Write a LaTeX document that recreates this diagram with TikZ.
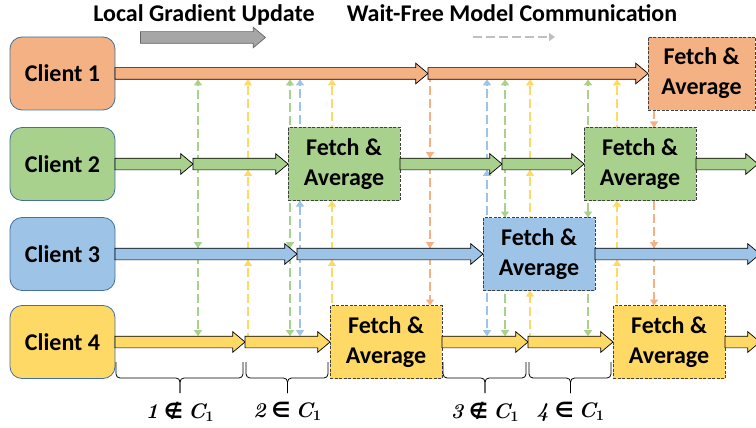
\documentclass[tikz,border=0pt]{standalone}
\usepackage[no-math]{fontspec}
\setmainfont{Carlito}
\newfontfamily\lmfont{Latin Modern Roman}
\newfontfamily\symfont{DejaVu Sans}
\usetikzlibrary{positioning, calc, shapes.arrows, arrows.meta, backgrounds}

\definecolor{corange}{HTML}{F4B183}
\definecolor{cgreen}{HTML}{A9D18E}
\definecolor{cblue}{HTML}{9DC3E6}
\definecolor{cyellow}{HTML}{FFD966}
\definecolor{cedge}{HTML}{41719C}
\definecolor{lgray}{HTML}{A6A6A6}
\definecolor{dgray}{HTML}{BFBFBF}

\begin{document}
\begin{tikzpicture}[
    x=1pt, y=-1pt,
    % Define the rounded client boxes
    client/.style={
        draw=cedge,
        line width=0.8pt,
        rounded corners=12pt,
        minimum width=105pt,
        minimum height=73pt,
        outer sep=0pt,
        font=\fontsize{24}{28}\selectfont\bfseries
    },
    % Block arrows for the local updates
    update/.style={
        single arrow,
        draw=black,
        line width=0.7pt,
        single arrow head extend=4.5pt,
        single arrow tip angle=80,
        inner xsep=0pt,
        inner ysep=5.5pt,
        text height=0pt,
        text depth=0pt,
        minimum height=#1,
        outer sep=0pt
    },
    % Dashed boxes for fetching and averaging
    fetch/.style={
        draw=black!75,
        dash pattern=on 3pt off 1.5pt,
        line width=0.8pt,
        minimum width=112pt,
        minimum height=73pt,
        outer sep=0pt,
        align=center,
        font=\fontsize{24}{30}\selectfont\bfseries
    },
    % Dashed communication arrows
    comm/.style={
        line width=2.5pt,
        dash pattern=on 9pt off 4pt,
        -{Triangle[length=6pt,width=8pt]}
    },
    brc/.style={draw=black, line width=0.8pt, rounded corners=4pt},
    lbl/.style={font=\fontsize{21}{24}\selectfont\lmfont\bfseries, inner sep=0pt}
]
\useasboundingbox (0,0) rectangle (756,428);

% Legend
\node[anchor=base, font=\fontsize{24}{28}\selectfont\bfseries] (lgu) at (204,22) {Local Gradient Update};
\node[anchor=base, font=\fontsize{24}{28}\selectfont\bfseries] (wfc) at (512,22) {Wait-Free Model Communication};
\node[update=125pt, fill=lgray, draw=black!60] (lga) at (199.5,37.5) {};
\coordinate (wa) at (473,37);
\coordinate (wb) at (555,37);
\draw[comm, dgray] (wa) -- (wb);

% Clients
\node[client, fill=corange] (c1) at (62.5,73.5) {Client 1};
\node[client, fill=cgreen] (c2) at (62.5,164) {Client 2};
\node[client, fill=cblue] (c3) at (62.5,254) {Client 3};
\node[client, fill=cyellow] (c4) at (62.5,342) {Client 4};

% Client 1 timeline
\node[update=313pt, fill=corange, right=0pt of c1] (a11) {};
\node[update=220pt, fill=corange, right=0pt of a11] (a12) {};
\node[fetch, fill=corange, minimum width=107pt, right=0pt of a12] (f11) {Fetch \&\\Average};

% Client 2 timeline
\node[update=78pt, fill=cgreen, right=0pt of c2] (a21) {};
\node[update=95pt, fill=cgreen, right=0pt of a21] (a22) {};
\node[fetch, fill=cgreen, right=0pt of a22] (f21) {Fetch \&\\Average};
\node[update=102pt, fill=cgreen, right=0pt of f21] (a23) {};
\node[update=82pt, fill=cgreen, right=0pt of a23] (a24) {};
\node[fetch, fill=cgreen, right=0pt of a24] (f22) {Fetch \&\\Average};
\node[update=62pt, fill=cgreen, right=0pt of f22] (a25) {};

% Client 3 timeline
\node[update=182pt, fill=cblue, right=0pt of c3] (a31) {};
\node[update=186pt, fill=cblue, right=0pt of a31] (a32) {};
\node[fetch, fill=cblue, right=0pt of a32] (f31) {Fetch \&\\Average};
\node[update=165pt, fill=cblue, right=0pt of f31] (a33) {};

% Client 4 timeline
\node[update=130pt, fill=cyellow, right=0pt of c4] (a41) {};
\node[update=85pt, fill=cyellow, right=0pt of a41] (a42) {};
\node[fetch, fill=cyellow, right=0pt of a42] (f41) {Fetch \&\\Average};
\node[update=86pt, fill=cyellow, right=0pt of f41] (a43) {};
\node[update=85pt, fill=cyellow, right=0pt of a43] (a44) {};
\node[fetch, fill=cyellow, right=0pt of a44] (f42) {Fetch \&\\Average};
\node[update=35pt, fill=cyellow, right=0pt of f42] (a45) {};

% Model pushes, drawn behind the timelines
\begin{scope}[on background layer]
% green, client 2 after first update
\coordinate (s1) at ($(a22.west)+(5,0)$);
\draw[comm, cgreen] (s1) -- (s1 |- a11.south);
\draw[comm, cgreen] (s1) -- (s1 |- a31.north);
\draw[comm, cgreen] (s1) -- (s1 |- a41.north);
% yellow, client 4 after first update
\coordinate (s2) at ($(a42.west)+(3,0)$);
\draw[comm, cyellow] (s2) -- (s2 |- a31.south);
\draw[comm, cyellow] (s2) -- (s2 |- a22.south);
\draw[comm, cyellow] (s2) -- (s2 |- a11.south);
% green, client 2 average
\coordinate (s3) at ($(f21.west)+(2,0)$);
\draw[comm, cgreen] (s3) -- (s3 |- a11.south);
\draw[comm, cgreen] (s3) -- (s3 |- a31.north);
\draw[comm, cgreen] (s3) -- (s3 |- a42.north);
% blue, client 3 after first update
\coordinate (s4) at ($(a32.west)+(3,0)$);
\draw[comm, cblue] (s4) -- (s4 |- f21.south);
\draw[comm, cblue] (s4) -- (s4 |- a11.south);
\draw[comm, cblue] (s4) -- (s4 |- a42.north);
% yellow, client 4 average
\coordinate (s5) at ($(f41.west)+(2,0)$);
\draw[comm, cyellow] (s5) -- (s5 |- a32.south);
\draw[comm, cyellow] (s5) -- (s5 |- f21.south);
\draw[comm, cyellow] (s5) -- (s5 |- a11.south);
% orange, client 1 after first update
\coordinate (s6) at ($(a12.west)+(2,0)$);
\draw[comm, corange] (s6) -- (s6 |- a23.north);
\draw[comm, corange] (s6) -- (s6 |- a32.north);
\draw[comm, corange] (s6) -- (s6 |- f41.north);
% blue, client 3 average
\coordinate (s7) at ($(f31.west)+(4,0)$);
\draw[comm, cblue] (s7) -- (s7 |- a23.south);
\draw[comm, cblue] (s7) -- (s7 |- a12.south);
\draw[comm, cblue] (s7) -- (s7 |- a43.north);
% green, client 2 after third update
\coordinate (s8) at ($(a24.west)+(3,0)$);
\draw[comm, cgreen] (s8) -- (s8 |- a12.south);
\draw[comm, cgreen] (s8) -- (s8 |- f31.north);
\draw[comm, cgreen] (s8) -- (s8 |- a43.north);
% yellow, client 4 after third update
\coordinate (s9) at ($(a44.west)+(2,0)$);
\draw[comm, cyellow] (s9) -- (s9 |- f31.south);
\draw[comm, cyellow] (s9) -- (s9 |- a24.south);
\draw[comm, cyellow] (s9) -- (s9 |- a12.south);
% green, client 2 second average
\coordinate (s10) at ($(f22.west)+(4,0)$);
\draw[comm, cgreen] (s10) -- (s10 |- a12.south);
\draw[comm, cgreen] (s10) -- (s10 |- f31.north);
\draw[comm, cgreen] (s10) -- (s10 |- a44.north);
% yellow, client 4 second average
\coordinate (s11) at ($(f42.west)+(4,0)$);
\draw[comm, cyellow] (s11) -- (s11 |- a33.south);
\draw[comm, cyellow] (s11) -- (s11 |- f22.south);
\draw[comm, cyellow] (s11) -- (s11 |- a12.south);
% orange, client 1 average
\coordinate (s12) at ($(f11.south west)+(6,0)$);
\draw[comm, corange] (s12) -- (s12 |- f22.north);
\draw[comm, corange] (s12) -- (s12 |- a33.north);
\draw[comm, corange] (s12) -- (s12 |- f42.north);
\end{scope}

% Braces under client 4
\foreach \n/\m in {a41/b1, a42/b2, a43/b3, a44/b4} {
    \coordinate (\m) at ($(\n.west)!0.5!(\n.east)+(0,51)$);
    \draw[brc] ($(\n.west)+(1,20)$) |- ($(\m)+(0,-15)$) -- (\m);
    \draw[brc] ($(\n.east)+(-2,20)$) |- ($(\m)+(0,-15)$) -- (\m);
}
\node[lbl, below=9pt of b1] (l1) {\itshape 1\hspace{6pt}{\upshape\symfont ∉}\hspace{5pt}C\textsubscript{\upshape 1}};
\node[lbl, below=9pt of b2] (l2) {\itshape 2\hspace{6pt}{\upshape\symfont ∈}\hspace{5pt}C\textsubscript{\upshape 1}};
\node[lbl, below=9pt of b3] (l3) {\itshape 3\hspace{6pt}{\upshape\symfont ∉}\hspace{5pt}C\textsubscript{\upshape 1}};
\node[lbl, below=9pt of b4] (l4) {\itshape 4\hspace{6pt}{\upshape\symfont ∈}\hspace{5pt}C\textsubscript{\upshape 1}};

\end{tikzpicture}
\end{document}
